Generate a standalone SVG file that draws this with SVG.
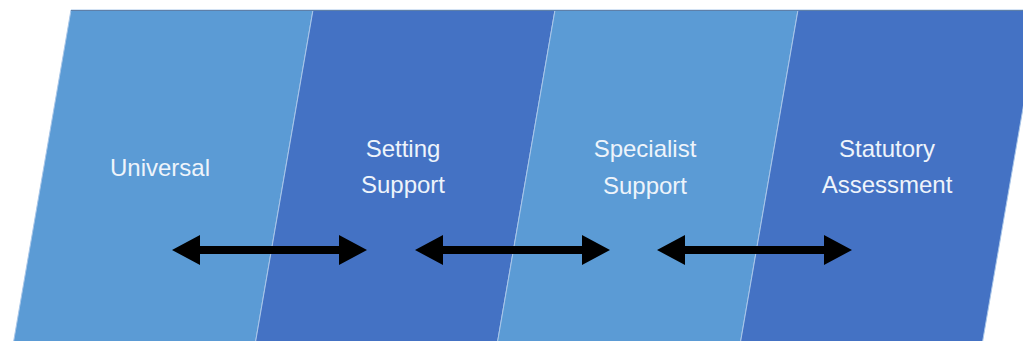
<svg xmlns="http://www.w3.org/2000/svg" width="1023" height="341" viewBox="0 0 1023 341">
<style>
.light{fill:#5B9BD5;stroke:#A9C6E8;stroke-width:1}
.dark{fill:#4472C4;stroke:#A9C6E8;stroke-width:1}
.lbl{font-family:"Liberation Sans",Arial,sans-serif;font-size:24px;fill:#EEF4FB;text-anchor:middle}
.arr{fill:#000000}
</style>
<rect width="1023" height="341" fill="#FFFFFF"/>
<g id="node-universal">
<polygon class="light" points="71,10 313,10 255,345 13,345"/>
<text class="lbl" x="160" y="176">Universal</text>
</g>
<g id="node-setting">
<polygon class="dark" points="313,10 555,10 497,345 255,345"/>
<text class="lbl" x="403" y="157">Setting</text>
<text class="lbl" x="403" y="193">Support</text>
</g>
<g id="node-specialist">
<polygon class="light" points="555,10 798,10 740,345 497,345"/>
<text class="lbl" x="645" y="157">Specialist</text>
<text class="lbl" x="645" y="194">Support</text>
</g>
<g id="node-statutory">
<polygon class="dark" points="798,10 1040,10 982,345 740,345"/>
<text class="lbl" x="887" y="157">Statutory</text>
<text class="lbl" x="887" y="193">Assessment</text>
</g>
<line x1="71" y1="10.5" x2="1040" y2="10.5" stroke="#5E7FA8" stroke-width="1"/>
<g id="connectors">
<polygon class="arr" points="172,250 200,235 200,246 339,246 339,235 367,250 339,265 339,254 200,254 200,265"/>
<polygon class="arr" points="415,250 443,235 443,246 582,246 582,235 610,250 582,265 582,254 443,254 443,265"/>
<polygon class="arr" points="657,250 685,235 685,246 824,246 824,235 852,250 824,265 824,254 685,254 685,265"/>
</g>
</svg>
